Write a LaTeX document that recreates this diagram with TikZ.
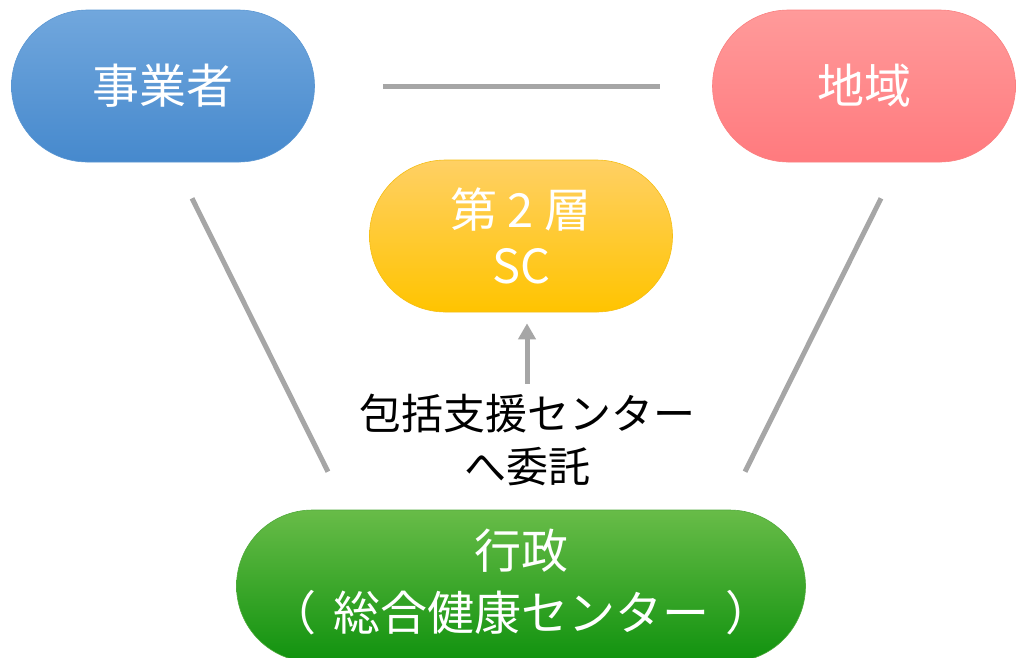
\documentclass[tikz,border=0pt]{standalone}
\usepackage{fontspec}
\setmainfont{Noto Sans CJK JP}
\usetikzlibrary{shapes.misc,arrows.meta}
\definecolor{blueT}{RGB}{113,167,221}
\definecolor{blueB}{RGB}{70,137,205}
\definecolor{blueD}{RGB}{90,150,210}
\definecolor{redT}{RGB}{255,154,154}
\definecolor{redB}{RGB}{255,122,126}
\definecolor{redD}{RGB}{250,128,128}
\definecolor{yelT}{RGB}{255,208,100}
\definecolor{yelB}{RGB}{255,196,0}
\definecolor{yelD}{RGB}{245,190,20}
\definecolor{grnT}{RGB}{104,188,72}
\definecolor{grnB}{RGB}{16,146,14}
\definecolor{grnD}{RGB}{80,170,60}
\definecolor{lineG}{RGB}{166,166,166}
\tikzset{
  pill/.style={rounded rectangle, minimum width=303pt, minimum height=152pt,
    inner sep=0pt, text=white, align=center, line width=0.6pt,
    font=\fontsize{47}{56}\selectfont},
  conn/.style={draw=lineG, line width=5pt},
}
\begin{document}
\begin{tikzpicture}[x=1pt,y=-1pt]
\useasboundingbox (0,0) rectangle (1016,657);
\clip (0,0) rectangle (1016,657);
\node[pill, draw=blueD, top color=blueT, bottom color=blueB] (a) at (163,86) {事業者};
\node[pill, draw=redD, top color=redT, bottom color=redB] (b) at (864,86) {地域};
\node[pill, draw=yelD, top color=yelT, middle color=yelB, bottom color=yelB] (sc) at (521,236) {第 2 層\\SC};
\node[pill, minimum width=569pt, draw=grnD, top color=grnT, bottom color=grnB,
  font=\fontsize{47}{62}\selectfont] (g) at (521,586) {\raisebox{13pt}{行政}\\\raisebox{13pt}{（\hspace{0.35em}総合健康センター\hspace{0.35em}）}};
\node[align=center, text=black, inner sep=0pt, font=\fontsize{42}{53}\selectfont] (lbl) at (527,440) {包括支援センター\\へ委託};
\draw[conn] ([xshift=68pt]a.east) -- ([xshift=-52pt]b.west);
\draw[conn] ([xshift=29pt,yshift=-36pt]a.south) -- ([xshift=-193pt,yshift=38pt]g.north);
\draw[conn] ([xshift=17pt,yshift=-36pt]b.south) -- ([xshift=224pt,yshift=38pt]g.north);
\draw[conn, -{Triangle[length=16pt,width=17pt]}] ([yshift=10pt]lbl.north) -- ([yshift=-11pt]lbl.north |- sc.south);
\end{tikzpicture}
\end{document}
